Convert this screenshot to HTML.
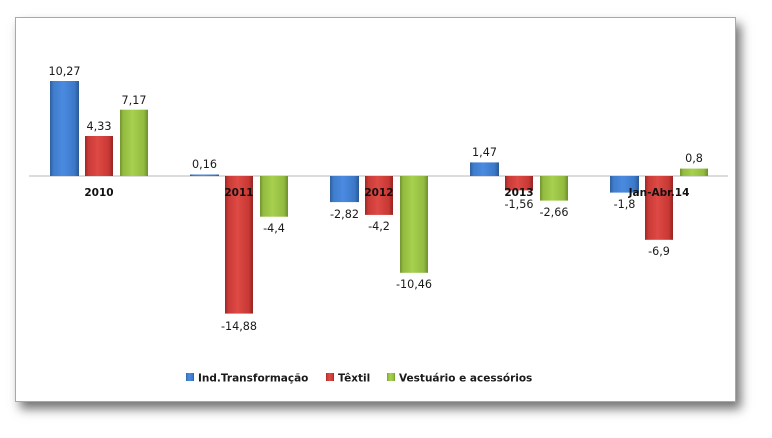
<!DOCTYPE html>
<html><head><meta charset="utf-8">
<style>
html,body{margin:0;padding:0;background:#fff;}
body{width:772px;height:438px;position:relative;overflow:hidden;}
.frame{position:absolute;left:15px;top:17px;width:719px;height:383px;border:1px solid #a8a8a8;background:#fff;box-shadow:5px 7px 10px rgba(0,0,0,0.55);}
svg{position:absolute;left:0;top:0;}
text{font-family:"DejaVu Sans","Liberation Sans",sans-serif;}
.v{font-size:11.2px;fill:#1a1a1a;text-anchor:middle;}
.c{font-size:10.5px;font-weight:bold;fill:#111;text-anchor:middle;}
.l{font-size:10.5px;font-weight:bold;fill:#1a1a1a;}
</style></head>
<body>
<div class="frame"></div>
<svg width="772" height="438" viewBox="0 0 772 438" xmlns="http://www.w3.org/2000/svg">
<defs>
<linearGradient id="gb" x1="0" y1="0" x2="1" y2="0">
<stop offset="0" stop-color="#2d5e9e"/><stop offset="0.12" stop-color="#3f7ccc"/><stop offset="0.45" stop-color="#4a8ae0"/><stop offset="0.85" stop-color="#3b78c8"/><stop offset="1" stop-color="#2a5893"/>
</linearGradient>
<linearGradient id="gr" x1="0" y1="0" x2="1" y2="0">
<stop offset="0" stop-color="#9e2624"/><stop offset="0.12" stop-color="#c93a36"/><stop offset="0.45" stop-color="#de4a45"/><stop offset="0.85" stop-color="#c83834"/><stop offset="1" stop-color="#962321"/>
</linearGradient>
<linearGradient id="gg" x1="0" y1="0" x2="1" y2="0">
<stop offset="0" stop-color="#729530"/><stop offset="0.12" stop-color="#93bc40"/><stop offset="0.45" stop-color="#a6d04e"/><stop offset="0.85" stop-color="#92bb40"/><stop offset="1" stop-color="#6e8f2e"/>
</linearGradient>
</defs>
<line x1="29" y1="176" x2="728" y2="176" stroke="#b8b8b8" stroke-width="1"/>

<!-- 2010 -->
<rect x="50" y="81" width="29" height="95" fill="url(#gb)"/>
<rect x="85" y="136" width="28" height="40" fill="url(#gr)"/>
<rect x="120" y="109.7" width="28" height="66.3" fill="url(#gg)"/>
<!-- 2011 -->
<rect x="190" y="174.5" width="29" height="1.5" fill="url(#gb)"/>
<rect x="225" y="176" width="28" height="137.6" fill="url(#gr)"/>
<rect x="260" y="176" width="28" height="40.7" fill="url(#gg)"/>
<!-- 2012 -->
<rect x="330" y="176" width="29" height="26.1" fill="url(#gb)"/>
<rect x="365" y="176" width="28" height="38.9" fill="url(#gr)"/>
<rect x="400" y="176" width="28" height="96.8" fill="url(#gg)"/>
<!-- 2013 -->
<rect x="470" y="162.4" width="29" height="13.6" fill="url(#gb)"/>
<rect x="505" y="176" width="28" height="14.4" fill="url(#gr)"/>
<rect x="540" y="176" width="28" height="24.6" fill="url(#gg)"/>
<!-- Jan-Abr.14 -->
<rect x="610" y="176" width="29" height="16.6" fill="url(#gb)"/>
<rect x="645" y="176" width="28" height="63.8" fill="url(#gr)"/>
<rect x="680" y="168.6" width="28" height="7.4" fill="url(#gg)"/>

<!-- value labels -->
<text class="v" x="64.5" y="75">10,27</text>
<text class="v" x="99" y="130">4,33</text>
<text class="v" x="134" y="104">7,17</text>

<text class="v" x="204.5" y="168">0,16</text>
<text class="v" x="239" y="330">-14,88</text>
<text class="v" x="274" y="232">-4,4</text>

<text class="v" x="344.5" y="218">-2,82</text>
<text class="v" x="379" y="230">-4,2</text>
<text class="v" x="414" y="288">-10,46</text>

<text class="v" x="484.5" y="156">1,47</text>
<text class="v" x="519" y="208">-1,56</text>
<text class="v" x="554" y="216">-2,66</text>

<text class="v" x="624.5" y="208">-1,8</text>
<text class="v" x="659" y="255">-6,9</text>
<text class="v" x="694" y="162">0,8</text>

<!-- category labels -->
<text class="c" x="99" y="196">2010</text>
<text class="c" x="239" y="196">2011</text>
<text class="c" x="379" y="196">2012</text>
<text class="c" x="519" y="196">2013</text>
<text class="c" x="659" y="196">Jan-Abr.14</text>

<!-- legend -->
<rect x="186" y="373" width="8" height="8" fill="url(#gb)"/>
<text class="l" x="198" y="381.5">Ind.Transformação</text>
<rect x="326" y="373" width="8" height="8" fill="url(#gr)"/>
<text class="l" x="338" y="381.5">Têxtil</text>
<rect x="387" y="373" width="8" height="8" fill="url(#gg)"/>
<text class="l" x="399" y="381.5">Vestuário e acessórios</text>
</svg>
</body></html>
